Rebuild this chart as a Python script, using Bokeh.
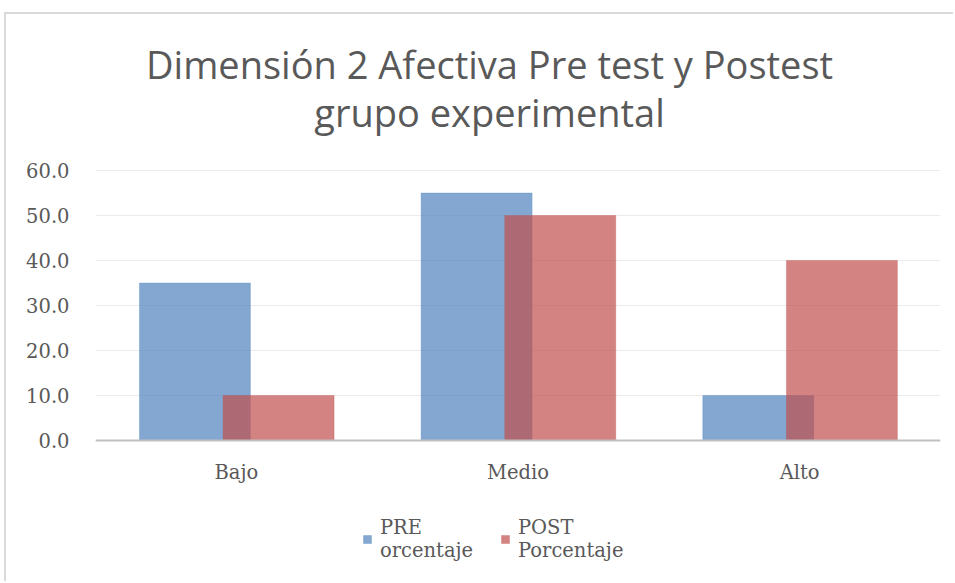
from bokeh.plotting import figure
from bokeh.models import FactorRange, Range1d, Label, Legend, LegendItem, ColumnDataSource, PrintfTickFormatter
from bokeh.transform import dodge
from bokeh.embed import file_html
from bokeh.resources import INLINE

categories = ["Bajo", "Medio", "Alto"]
pre_values = [35.0, 55.0, 10.0]
post_values = [10.0, 50.0, 40.0]
y_ticks = [0, 10, 20, 30, 40, 50, 60]
title_lines = ["Dimensión 2 Afectiva Pre test y Postest", "grupo experimental"]
legend_labels = ["PRE\norcentaje", "POST\nPorcentaje"]

src = ColumnDataSource(dict(cat=categories, pre=pre_values, post=post_values))

# frame spans the whole canvas height; value 0 sits at 440px, 60 at 170px
p = figure(x_range=FactorRange(*categories), y_range=Range1d(-31.78, 94.67),
           width=949, height=569, output_backend="svg", toolbar_location=None,
           min_border_left=89, min_border_right=15, min_border_top=0, min_border_bottom=0,
           styles={"margin-left": "4px", "margin-top": "12px",
                   "border-left": "2px solid #D9D9D9", "border-top": "2px solid #D9D9D9"})
p.outline_line_color = None

r_pre = p.vbar(x=dodge("cat", -0.147, range=p.x_range), top="pre", width=0.394, source=src,
               fill_color="#4F81BD", fill_alpha=0.7, line_color="#4F81BD", line_alpha=0.3)
r_post = p.vbar(x=dodge("cat", 0.15, range=p.x_range), top="post", width=0.394, source=src,
                fill_color="#C0504D", fill_alpha=0.7, line_color="#C0504D", line_alpha=0.3)

p.xgrid.grid_line_color = None
p.ygrid.grid_line_color = "#EBEBEB"
p.ygrid.grid_line_width = 1
p.yaxis.ticker = y_ticks
p.yaxis.formatter = PrintfTickFormatter(format="%.1f")
p.yaxis.axis_line_color = None
p.yaxis.major_tick_line_color = None
p.yaxis.minor_tick_line_color = None
p.yaxis.major_label_standoff = 20
p.xaxis.fixed_location = 0
p.xaxis.axis_line_color = "#BFBFBF"
p.xaxis.axis_line_width = 2
p.xaxis.major_tick_line_color = None
p.xaxis.minor_tick_line_color = None
p.xaxis.major_label_standoff = 15
for ax in (p.xaxis, p.yaxis):
    ax.major_label_text_font = "DejaVu Serif"
    ax.major_label_text_font_size = "19.5px"
    ax.major_label_text_color = "#595959"

for line, ypos in zip(title_lines, (83.6, 72.9)):
    p.add_layout(Label(x=1.399, y=ypos, text=line, text_align="center", text_baseline="middle",
                       text_font="Open Sans", text_font_size="38px", text_color="#595959"))

legend = Legend(items=[LegendItem(label=legend_labels[0], renderers=[r_pre]),
                       LegendItem(label=legend_labels[1], renderers=[r_post])],
                location=(267, 21), orientation="horizontal",
                glyph_width=10, glyph_height=10, label_standoff=8, spacing=10, label_width=110,
                padding=0, margin=0, border_line_color=None, background_fill_alpha=0,
                label_text_font="DejaVu Serif", label_text_font_size="19.5px",
                label_text_line_height=1.4, label_text_color="#595959")
p.add_layout(legend, "center")

open("out.html", "w").write(file_html(p, INLINE))
